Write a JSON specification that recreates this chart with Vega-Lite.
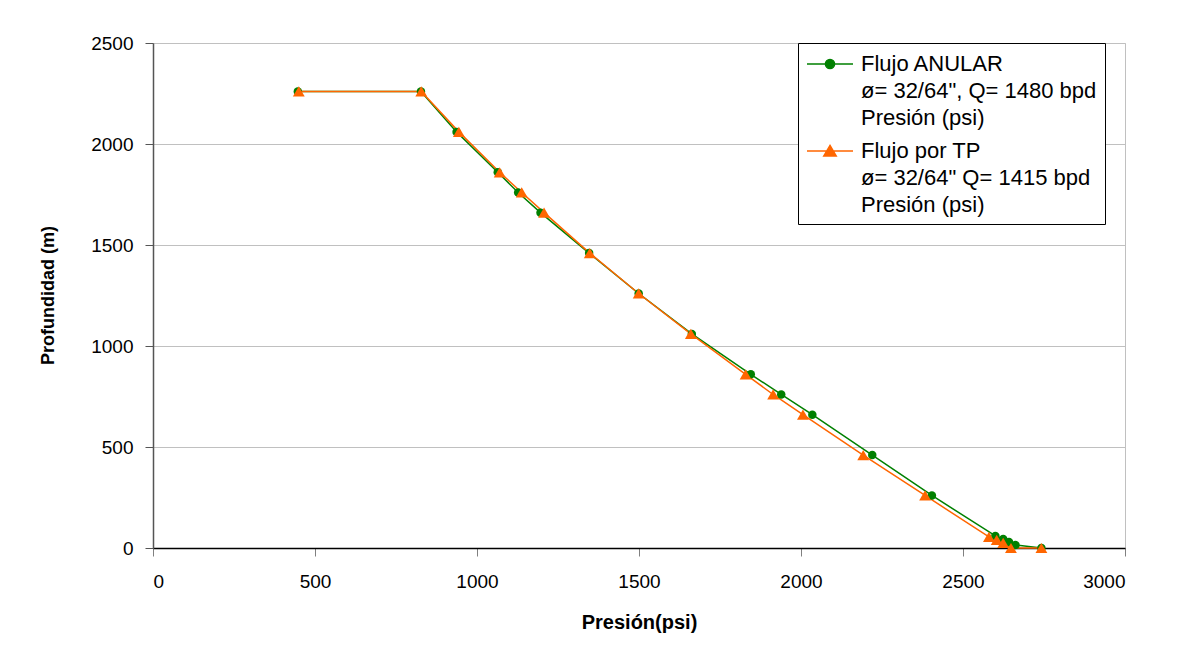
{
  "$schema": "https://vega.github.io/schema/vega-lite/v6.json",
  "width": 972,
  "height": 505,
  "autosize": {"type": "none"},
  "padding": {"left": 153, "top": 43, "right": 65, "bottom": 102},
  "background": "white",
  "config": {"font": "Liberation Sans", "view": {"stroke": "#c0c0c0"}},
  "data": {
    "values": [
      {"serie": "Flujo ANULAR|ø= 32/64\", Q= 1480 bpd|Presión (psi)", "p": 447, "d": 2260},
      {"serie": "Flujo ANULAR|ø= 32/64\", Q= 1480 bpd|Presión (psi)", "p": 827, "d": 2260},
      {"serie": "Flujo ANULAR|ø= 32/64\", Q= 1480 bpd|Presión (psi)", "p": 937, "d": 2060},
      {"serie": "Flujo ANULAR|ø= 32/64\", Q= 1480 bpd|Presión (psi)", "p": 1064, "d": 1860},
      {"serie": "Flujo ANULAR|ø= 32/64\", Q= 1480 bpd|Presión (psi)", "p": 1127, "d": 1760},
      {"serie": "Flujo ANULAR|ø= 32/64\", Q= 1480 bpd|Presión (psi)", "p": 1196, "d": 1660},
      {"serie": "Flujo ANULAR|ø= 32/64\", Q= 1480 bpd|Presión (psi)", "p": 1346, "d": 1460},
      {"serie": "Flujo ANULAR|ø= 32/64\", Q= 1480 bpd|Presión (psi)", "p": 1499, "d": 1260},
      {"serie": "Flujo ANULAR|ø= 32/64\", Q= 1480 bpd|Presión (psi)", "p": 1663, "d": 1060},
      {"serie": "Flujo ANULAR|ø= 32/64\", Q= 1480 bpd|Presión (psi)", "p": 1845, "d": 860},
      {"serie": "Flujo ANULAR|ø= 32/64\", Q= 1480 bpd|Presión (psi)", "p": 1939, "d": 760},
      {"serie": "Flujo ANULAR|ø= 32/64\", Q= 1480 bpd|Presión (psi)", "p": 2035, "d": 660},
      {"serie": "Flujo ANULAR|ø= 32/64\", Q= 1480 bpd|Presión (psi)", "p": 2220, "d": 460},
      {"serie": "Flujo ANULAR|ø= 32/64\", Q= 1480 bpd|Presión (psi)", "p": 2404, "d": 260},
      {"serie": "Flujo ANULAR|ø= 32/64\", Q= 1480 bpd|Presión (psi)", "p": 2600, "d": 60},
      {"serie": "Flujo ANULAR|ø= 32/64\", Q= 1480 bpd|Presión (psi)", "p": 2624, "d": 45},
      {"serie": "Flujo ANULAR|ø= 32/64\", Q= 1480 bpd|Presión (psi)", "p": 2642, "d": 30},
      {"serie": "Flujo ANULAR|ø= 32/64\", Q= 1480 bpd|Presión (psi)", "p": 2662, "d": 15},
      {"serie": "Flujo ANULAR|ø= 32/64\", Q= 1480 bpd|Presión (psi)", "p": 2742, "d": 0},
      {"serie": "Flujo por TP|ø= 32/64\" Q= 1415 bpd|Presión (psi)", "p": 450, "d": 2260},
      {"serie": "Flujo por TP|ø= 32/64\" Q= 1415 bpd|Presión (psi)", "p": 828, "d": 2260},
      {"serie": "Flujo por TP|ø= 32/64\" Q= 1415 bpd|Presión (psi)", "p": 944, "d": 2060},
      {"serie": "Flujo por TP|ø= 32/64\" Q= 1415 bpd|Presión (psi)", "p": 1070, "d": 1860},
      {"serie": "Flujo por TP|ø= 32/64\" Q= 1415 bpd|Presión (psi)", "p": 1138, "d": 1760},
      {"serie": "Flujo por TP|ø= 32/64\" Q= 1415 bpd|Presión (psi)", "p": 1207, "d": 1660},
      {"serie": "Flujo por TP|ø= 32/64\" Q= 1415 bpd|Presión (psi)", "p": 1348, "d": 1460},
      {"serie": "Flujo por TP|ø= 32/64\" Q= 1415 bpd|Presión (psi)", "p": 1499, "d": 1260},
      {"serie": "Flujo por TP|ø= 32/64\" Q= 1415 bpd|Presión (psi)", "p": 1660, "d": 1060},
      {"serie": "Flujo por TP|ø= 32/64\" Q= 1415 bpd|Presión (psi)", "p": 1829, "d": 860},
      {"serie": "Flujo por TP|ø= 32/64\" Q= 1415 bpd|Presión (psi)", "p": 1914, "d": 760},
      {"serie": "Flujo por TP|ø= 32/64\" Q= 1415 bpd|Presión (psi)", "p": 2006, "d": 660},
      {"serie": "Flujo por TP|ø= 32/64\" Q= 1415 bpd|Presión (psi)", "p": 2192, "d": 460},
      {"serie": "Flujo por TP|ø= 32/64\" Q= 1415 bpd|Presión (psi)", "p": 2383, "d": 260},
      {"serie": "Flujo por TP|ø= 32/64\" Q= 1415 bpd|Presión (psi)", "p": 2580, "d": 55},
      {"serie": "Flujo por TP|ø= 32/64\" Q= 1415 bpd|Presión (psi)", "p": 2604, "d": 40},
      {"serie": "Flujo por TP|ø= 32/64\" Q= 1415 bpd|Presión (psi)", "p": 2624, "d": 25},
      {"serie": "Flujo por TP|ø= 32/64\" Q= 1415 bpd|Presión (psi)", "p": 2648, "d": 0},
      {"serie": "Flujo por TP|ø= 32/64\" Q= 1415 bpd|Presión (psi)", "p": 2742, "d": 0}
    ]
  },
  "encoding": {
    "x": {
      "field": "p", "type": "quantitative",
      "scale": {"domain": [0, 3000], "nice": false},
      "axis": {
        "title": "Presión(psi)", "values": [0, 500, 1000, 1500, 2000, 2500, 3000], "format": "d",
        "grid": false, "domainColor": "#000000", "domainWidth": 1.5,
        "tickColor": "#808080", "tickSize": 8, "labelPadding": 16,
        "labelFontSize": 19, "labelColor": "#000000", "labelFont": "Liberation Sans",
        "titleFontSize": 20, "titleFontWeight": "bold", "titleColor": "#000000",
        "titleFont": "Liberation Sans", "titleY": 74, "titleBaseline": "middle"
      }
    },
    "y": {
      "field": "d", "type": "quantitative",
      "scale": {"domain": [0, 2500], "nice": false},
      "axis": {
        "title": "Profundidad (m)", "values": [0, 500, 1000, 1500, 2000, 2500], "format": "d",
        "grid": true, "gridColor": "#c0c0c0", "gridWidth": 1,
        "domainColor": "#555555", "domainWidth": 1.5,
        "tickColor": "#555555", "tickSize": 8, "labelPadding": 12,
        "labelFontSize": 19, "labelColor": "#000000", "labelFont": "Liberation Sans",
        "titleFontSize": 18, "titleFontWeight": "bold", "titleColor": "#000000",
        "titleFont": "Liberation Sans", "titleX": -105, "titleY": 252, "titleAngle": -90,
        "titleBaseline": "middle", "titleAlign": "center"
      }
    },
    "color": {
      "field": "serie", "type": "nominal",
      "scale": {
        "domain": ["Flujo ANULAR|ø= 32/64\", Q= 1480 bpd|Presión (psi)", "Flujo por TP|ø= 32/64\" Q= 1415 bpd|Presión (psi)"],
        "range": ["#008000", "#FF6600"]
      },
      "legend": {
        "title": null, "orient": "none", "legendX": 645, "legendY": 0,
        "strokeColor": "#000000", "fillColor": "#ffffff", "padding": 8,
        "labelFont": "Liberation Sans", "labelFontSize": 22, "labelColor": "#000000",
        "labelLimit": 600, "labelExpr": "split(datum.label, '|')",
        "symbolSize": 2116, "labelOffset": 7, "rowPadding": 9,
        "encode": {
          "symbols": {
            "update": {
              "shape": {"signal": "indexof(datum.value, 'ANULAR') >= 0 ? 'M-1,0H1M-0.2,0A0.2,0.2,0,1,1,0.2,0A0.2,0.2,0,1,1,-0.2,0Z' : 'M-1,0H1M0,-0.24L0.27,0.22L-0.27,0.22Z'"},
              "size": {"value": 2116},
              "fill": {"signal": "scale('color', datum.value)"},
              "stroke": {"signal": "scale('color', datum.value)"},
              "strokeWidth": {"value": 1.5},
              "opacity": {"value": 1},
              "y": {"value": 13}
            }
          },
          "labels": {
            "update": {
              "lineHeight": {"value": 27},
              "baseline": {"value": "middle"},
              "y": {"value": 13}
            }
          }
        }
      }
    }
  },
  "layer": [
    {"mark": {"type": "line", "strokeWidth": 1.5}},
    {
      "transform": [{"filter": "indexof(datum.serie, 'ANULAR') >= 0"}],
      "mark": {"type": "point", "filled": true, "opacity": 1, "shape": "circle", "size": 72}
    },
    {
      "transform": [{"filter": "indexof(datum.serie, 'ANULAR') < 0"}],
      "mark": {"type": "point", "filled": true, "opacity": 1, "shape": "triangle-up", "size": 140}
    }
  ]
}
